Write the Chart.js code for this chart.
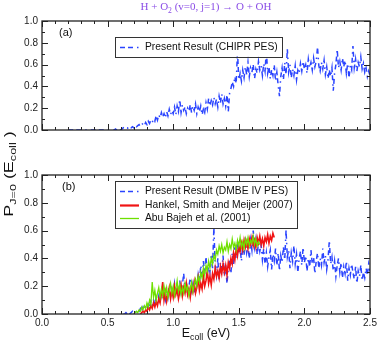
<!DOCTYPE html>
<html><head><meta charset="utf-8">
<script src="https://cdn.jsdelivr.net/npm/chart.js@4.4.1/dist/chart.umd.min.js"></script>
<style>
html,body{margin:0;padding:0;background:#fff;}
#wrap{position:relative;width:382px;height:345px;overflow:hidden;font-family:'Liberation Sans',Arial,sans-serif;background:#fff;}
canvas{position:absolute;left:0;}
#c1{top:0;}
#c2{top:165px;}
.title{position:absolute;left:0;width:412px;top:-1px;text-align:center;font-family:'Liberation Serif','Times New Roman',serif;font-size:11px;line-height:14px;color:#8a4de6;white-space:nowrap;}
.ylab{position:absolute;left:-91px;top:165px;width:200px;text-align:center;font-size:13.5px;line-height:18px;color:#111;transform:rotate(-90deg) scaleX(1.33);white-space:nowrap;}
.xlab{position:absolute;left:0;width:412px;top:324px;text-align:center;font-size:12.5px;line-height:18px;color:#111;white-space:nowrap;}
sub{font-size:70%;vertical-align:-0.35em;line-height:0;}
</style></head>
<body>
<div id="wrap">
<canvas id="c1" width="382" height="172"></canvas>
<canvas id="c2" width="382" height="180"></canvas>
<div class="title">H + O<sub>2</sub> (v=0, j=1) → O + OH</div>
<div class="ylab">P<sub>J=0</sub> (E<sub>coll</sub> )</div>
<div class="xlab">E<sub>coll</sub> (eV)</div>
</div>
<script>
const _ = null;
// collision energy grid (eV)
const energy = [
0,0.01,0.02,0.03,0.04,0.05,0.06,0.07,0.08,0.09,
0.1,0.11,0.12,0.13,0.14,0.15,0.16,0.17,0.18,0.19,
0.2,0.21,0.22,0.23,0.24,0.25,0.26,0.27,0.28,0.29,
0.3,0.31,0.32,0.33,0.34,0.35,0.36,0.37,0.38,0.39,
0.4,0.41,0.42,0.43,0.44,0.45,0.46,0.47,0.48,0.49,
0.5,0.51,0.52,0.53,0.54,0.55,0.56,0.57,0.58,0.59,
0.6,0.61,0.62,0.63,0.64,0.65,0.66,0.67,0.68,0.69,
0.7,0.71,0.72,0.73,0.74,0.75,0.76,0.77,0.78,0.79,
0.8,0.81,0.82,0.83,0.84,0.85,0.86,0.87,0.88,0.89,
0.9,0.91,0.92,0.93,0.94,0.95,0.96,0.97,0.98,0.99,
1.0,1.01,1.02,1.03,1.04,1.05,1.06,1.07,1.08,1.09,
1.1,1.11,1.12,1.13,1.14,1.15,1.16,1.17,1.18,1.19,
1.2,1.21,1.22,1.23,1.24,1.25,1.26,1.27,1.28,1.29,
1.3,1.31,1.32,1.33,1.34,1.35,1.36,1.37,1.38,1.39,
1.4,1.41,1.42,1.43,1.44,1.45,1.46,1.47,1.48,1.49,
1.5,1.51,1.52,1.53,1.54,1.55,1.56,1.57,1.58,1.59,
1.6,1.61,1.62,1.63,1.64,1.65,1.66,1.67,1.68,1.69,
1.7,1.71,1.72,1.73,1.74,1.75,1.76,1.77,1.78,1.79,
1.8,1.81,1.82,1.83,1.84,1.85,1.86,1.87,1.88,1.89,
1.9,1.91,1.92,1.93,1.94,1.95,1.96,1.97,1.98,1.99,
2.0,2.01,2.02,2.03,2.04,2.05,2.06,2.07,2.08,2.09,
2.1,2.11,2.12,2.13,2.14,2.15,2.16,2.17,2.18,2.19,
2.2,2.21,2.22,2.23,2.24,2.25,2.26,2.27,2.28,2.29,
2.3,2.31,2.32,2.33,2.34,2.35,2.36,2.37,2.38,2.39,
2.4,2.41,2.42,2.43,2.44,2.45,2.46,2.47,2.48,2.49,
2.5];

// (a) Present Result (CHIPR PES)
const chiprPES = [
_,_,_,_,_,_,_,_,_,_,
_,_,_,_,_,_,_,_,_,_,
0,0,0,0,0,0,0,0,0,0,
0,0,0,0,0,0,0,0,0,0,
0,0,0,0,0,0,0,0,0,0,
0,0,0,0,0,0,0.01,0,0.01,0.01,
0,0.01,0.02,0.01,0.02,0.02,0.01,0.03,0.02,0.03,
0.02,0.04,0.03,0.04,0.05,0.03,0.05,0.06,0.04,0.07,
0.05,0.08,0.06,0.09,0.07,0.10,0.08,0.13,0.09,0.14,
0.11,0.16,0.12,0.15,0.11,0.17,0.13,0.19,0.14,0.18,
0.15,0.21,0.14,0.22,0.17,0.28,0.16,0.23,0.18,0.21,
0.15,0.20,0.17,0.23,0.16,0.22,0.18,0.24,0.15,0.21,
0.17,0.22,0.14,0.19,0.16,0.25,0.19,0.29,0.22,0.27,
0.23,0.30,0.24,0.28,0.21,0.31,0.25,0.33,0.24,0.29,
0.22,0.32,0.17,0.34,0.38,0.44,0.40,0.49,0.43,0.72,
0.46,0.52,0.45,0.55,0.48,0.58,0.51,0.62,0.49,0.57,
0.53,0.60,0.47,0.56,0.52,0.63,0.55,0.59,0.50,0.61,
0.54,0.73,0.52,0.58,0.47,0.55,0.50,0.60,0.45,0.53,
0.41,0.31,0.49,0.57,0.46,0.62,0.51,0.74,0.53,0.60,
0.48,0.56,0.50,0.59,0.46,0.55,0.52,0.61,0.54,0.63,
0.56,0.60,0.52,0.65,0.57,0.62,0.55,0.66,0.58,0.63,
0.76,0.59,0.54,0.62,0.56,0.64,0.51,0.58,0.47,0.55,
0.49,0.57,0.36,0.52,0.60,0.74,0.57,0.63,0.55,0.66,
0.58,0.64,0.52,0.61,0.48,0.59,0.55,0.77,0.57,0.65,
0.54,0.62,0.58,0.67,0.56,0.61,0.53,0.57,0.49,0.54,
0.50];

// (b) Present Result (DMBE IV PES)
const dmbePES = [
_,_,_,_,_,_,_,_,_,_,
_,_,_,_,_,_,_,_,_,_,
_,_,_,_,_,_,_,_,_,_,
_,_,_,_,_,_,_,_,_,_,
_,_,_,_,_,_,_,_,_,_,
_,_,_,_,_,_,_,_,_,_,
_,_,0,0,0.01,0,0.01,0,0.01,0.02,
0.01,0.02,0.01,0.03,0.02,0.04,0.02,0.05,0.03,0.06,
0.04,0.07,0.05,0.09,0.06,0.10,0.07,0.12,0.08,0.13,
0.09,0.15,0.11,0.14,0.10,0.17,0.12,0.20,0.13,0.18,
0.14,0.22,0.15,0.19,0.12,0.24,0.16,0.21,0.29,0.18,
0.23,0.14,0.20,0.26,0.17,0.22,0.15,0.25,0.19,0.28,
0.22,0.35,0.26,0.38,0.29,0.41,0.27,0.36,0.30,0.43,
0.33,0.62,0.35,0.28,0.40,0.25,0.37,0.30,0.42,0.27,
0.35,0.22,0.33,0.39,0.29,0.44,0.36,0.48,0.40,0.52,
0.43,0.47,0.38,0.50,0.42,0.55,0.44,0.49,0.40,0.53,
0.46,0.60,0.48,0.54,0.43,0.51,0.45,0.50,0.39,0.47,
0.36,0.44,0.34,0.41,0.46,0.32,0.43,0.38,0.47,0.35,
0.44,0.31,0.42,0.37,0.48,0.39,0.60,0.41,0.46,0.33,
0.44,0.38,0.49,0.36,0.43,0.30,0.40,0.45,0.35,0.48,
0.37,0.42,0.31,0.40,0.34,0.46,0.36,0.41,0.29,0.38,
0.44,0.33,0.40,0.35,0.47,0.37,0.42,0.32,0.39,0.53,
0.36,0.41,0.31,0.38,0.27,0.35,0.40,0.30,0.37,0.26,
0.34,0.29,0.38,0.24,0.33,0.28,0.36,0.30,0.25,0.34,
0.22,0.31,0.27,0.35,0.24,0.30,0.26,0.33,0.28,0.36,
0.31];

// Hankel, Smith and Meijer (2007)
const hankel2007 = [
_,_,_,_,_,_,_,_,_,_,
_,_,_,_,_,_,_,_,_,_,
_,_,_,_,_,_,_,_,_,_,
_,_,_,_,_,_,_,_,_,_,
_,_,_,_,_,_,_,_,_,_,
_,_,_,_,_,_,_,_,_,_,
_,_,_,_,_,_,_,_,_,_,
_,_,_,_,_,0,0.01,0.02,0.01,0.03,
0.02,0.05,0.03,0.06,0.04,0.08,0.05,0.09,0.06,0.11,
0.08,0.15,0.23,0.10,0.16,0.09,0.14,0.19,0.11,0.17,
0.12,0.20,0.14,0.18,0.11,0.16,0.21,0.13,0.19,0.15,
0.22,0.14,0.18,0.12,0.20,0.16,0.23,0.15,0.19,0.26,
0.17,0.22,0.18,0.27,0.20,0.24,0.31,0.22,0.27,0.21,
0.29,0.25,0.33,0.27,0.31,0.26,0.34,0.29,0.36,0.30,
0.35,0.28,0.37,0.33,0.40,0.36,0.44,0.39,0.47,0.42,
0.49,0.45,0.51,0.46,0.53,0.48,0.52,0.47,0.54,0.50,
0.55,0.49,0.53,0.48,0.55,0.51,0.56,0.50,0.54,0.49,
0.55,0.52,0.57,0.51,0.56,0.53,0.58,0.55];

// Abu Bajeh et al. (2001)
const abuBajeh2001 = [
_,_,_,_,_,_,_,_,_,_,
_,_,_,_,_,_,_,_,_,_,
_,_,_,_,_,_,_,_,_,_,
_,_,_,_,_,_,_,_,_,_,
_,_,_,_,_,_,_,_,_,_,
_,_,_,_,_,_,_,_,_,_,
_,_,_,_,_,_,_,_,_,_,
0,0.01,0.02,0.01,0.03,0.02,0.05,0.03,0.06,0.04,
0.08,0.05,0.10,0.07,0.23,0.12,0.17,0.10,0.15,0.19,
0.12,0.18,0.13,0.20,0.14,0.19,0.12,0.17,0.22,0.15,
0.20,0.13,0.18,0.24,0.16,0.21,0.14,0.19,0.15,0.22,
0.17,0.20,0.13,0.18,0.23,0.16,0.21,0.25,0.20,0.27,
0.23,0.30,0.26,0.33,0.28,0.35,0.31,0.38,0.33,0.40,
0.36,0.42,0.39,0.46,0.43,0.49,0.45,0.50,0.44,0.48,
0.46,0.52,0.45,0.50,0.47,0.54,0.48,0.51,0.46,0.53,
0.49,0.55,0.48,0.52,0.47,0.54,0.50,0.55,0.49,0.53,
0.51,0.56,0.50,0.54,0.49,0.52,0.50];

// axis ticks
const xTicks = [0, 0.5, 1.0, 1.5, 2.0, 2.5];
const xMinorTicks = [0.1,0.2,0.3,0.4,0.6,0.7,0.8,0.9,1.1,1.2,1.3,1.4,1.6,1.7,1.8,1.9,2.1,2.2,2.3,2.4];
const yTicks = [0, 0.2, 0.4, 0.6, 0.8, 1.0];
const yMinorTicks = [0.1, 0.3, 0.5, 0.7, 0.9];

const BLUE = '#2a44ff', RED = '#f01414', GREEN = '#6ee000';
const BLUE_DASH = [5, 3, 5, 4, 1.5, 4];

function pts(series) {
  return series.map((v, i) => ({x: energy[i], y: v}));
}

const framePlugin = {
  id: 'frame',
  afterDatasetsDraw(chart, args, opts) {
    const {ctx, chartArea: a, scales: {x, y}} = chart;
    ctx.save();
    ctx.strokeStyle = '#222';
    ctx.lineWidth = 1.3;
    ctx.strokeRect(a.left, a.top, a.right - a.left, a.bottom - a.top);
    ctx.lineWidth = 1;
    ctx.beginPath();
    const xt = (list, L) => list.forEach(v => {
      const p = Math.round(x.getPixelForValue(v)) + 0.5;
      ctx.moveTo(p, a.bottom); ctx.lineTo(p, a.bottom - L);
      ctx.moveTo(p, a.top); ctx.lineTo(p, a.top + L);
    });
    const yt = (list, L) => list.forEach(v => {
      const p = Math.round(y.getPixelForValue(v)) + 0.5;
      ctx.moveTo(a.left, p); ctx.lineTo(a.left + L, p);
      ctx.moveTo(a.right, p); ctx.lineTo(a.right - L, p);
    });
    xt(xTicks, 6); xt(xMinorTicks, 3);
    yt(yTicks, 6); yt(yMinorTicks, 3);
    ctx.stroke();

    // panel tag
    ctx.fillStyle = '#111';
    ctx.font = '11px "Liberation Sans", Arial, sans-serif';
    ctx.textBaseline = 'middle';
    ctx.textAlign = 'left';
    ctx.fillText(opts.tag, a.left + opts.tagDx, a.top + 12);

    // legend box
    const ds = chart.data.datasets;
    ctx.font = '10.3px "Liberation Sans", Arial, sans-serif';
    let maxW = 0;
    ds.forEach(d => { maxW = Math.max(maxW, ctx.measureText(d.label).width); });
    const x0 = a.left + 73, y0 = a.top + opts.legendTop;
    const rowH = 13.5;
    const w = 30 + maxW + 4, h = ds.length * rowH + 6;
    ctx.fillStyle = '#fff';
    ctx.fillRect(x0, y0, w, h);
    ctx.strokeStyle = '#333';
    ctx.lineWidth = 1;
    ctx.strokeRect(Math.round(x0) + 0.5, Math.round(y0) + 0.5, Math.round(w), Math.round(h));
    ds.forEach((d, i) => {
      const ry = Math.round(y0 + 10 + i * rowH) + 0.5;
      ctx.beginPath();
      ctx.strokeStyle = d.borderColor;
      ctx.lineWidth = d.legendWidth || d.borderWidth;
      ctx.setLineDash(d.borderDash || []);
      ctx.moveTo(x0 + 5, ry); ctx.lineTo(x0 + 24, ry);
      ctx.stroke();
      ctx.setLineDash([]);
      ctx.fillStyle = '#111';
      ctx.fillText(d.label, x0 + 30, ry);
    });
    ctx.restore();
  }
};

function makeChart(id, datasets, o) {
  return new Chart(document.getElementById(id), {
    type: 'line',
    data: {datasets},
    options: {
      responsive: false,
      animation: false,
      events: [],
      layout: {padding: {top: o.padTop, bottom: o.padBottom, left: 0, right: 12}},
      elements: {point: {radius: 0}, line: {tension: 0}},
      plugins: {
        legend: {display: false},
        tooltip: {enabled: false},
        frame: {tag: o.tag, tagDx: o.tagDx, legendTop: o.legendTop}
      },
      scales: {
        x: {
          type: 'linear', min: 0, max: 2.5, display: o.showX,
          afterBuildTicks: s => { s.ticks = xTicks.map(v => ({value: v})); },
          afterFit: s => { s.height = 31; },
          grid: {display: false, drawTicks: false},
          border: {display: false},
          ticks: {padding: 3, color: '#222', font: {size: 10}, maxRotation: 0, autoSkip: false,
                  callback: v => Number(v).toFixed(1)}
        },
        y: {
          type: 'linear', min: 0, max: 1,
          afterBuildTicks: s => { s.ticks = yTicks.map(v => ({value: v})); },
          afterFit: s => { s.width = 42; },
          grid: {display: false, drawTicks: false},
          border: {display: false},
          ticks: {padding: 4, color: '#222', font: {size: 10},
                  callback: v => Number(v).toFixed(1)}
        }
      }
    },
    plugins: [framePlugin]
  });
}

Chart.defaults.font.family = '"Liberation Sans", Arial, sans-serif';

makeChart('c1', [
  {label: 'Present Result (CHIPR PES)', data: pts(chiprPES), borderColor: BLUE, borderWidth: 1.5, borderDash: BLUE_DASH, order: 1}
], {padTop: 21, padBottom: 11, showX: false, tag: '(a)', tagDx: 17, legendTop: 16});

makeChart('c2', [
  {label: 'Present Result (DMBE IV PES)', data: pts(dmbePES), borderColor: BLUE, borderWidth: 1.5, borderDash: BLUE_DASH, order: 3},
  {label: 'Hankel, Smith and Meijer (2007)', data: pts(hankel2007), borderColor: RED, borderWidth: 1.6, legendWidth: 2.2, order: 2},
  {label: 'Abu Bajeh et al. (2001)', data: pts(abuBajeh2001), borderColor: GREEN, borderWidth: 1.3, order: 1}
], {padTop: 9, padBottom: 0, showX: true, tag: '(b)', tagDx: 20, legendTop: 6});
</script>
</body></html>
